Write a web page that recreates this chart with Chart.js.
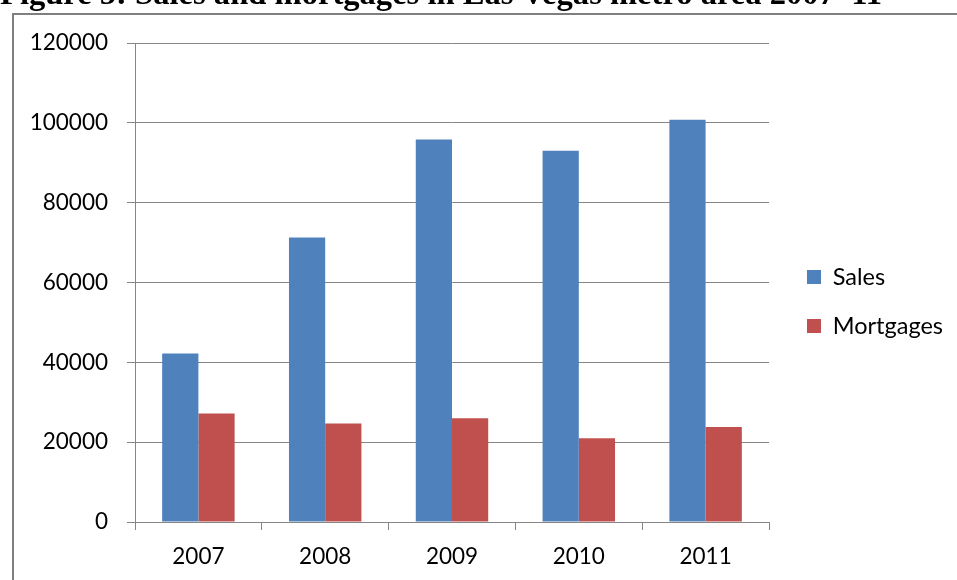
<!DOCTYPE html>
<html>
<head>
<meta charset="utf-8">
<script src="https://cdn.jsdelivr.net/npm/chart.js@4.4.1/dist/chart.umd.min.js"></script>
<style>
  html, body { margin: 0; padding: 0; background: #ffffff; overflow: hidden; }
  canvas { display: block; }
</style>
</head>
<body>
<canvas id="c" width="957" height="580"></canvas>
<script>
// ---- data ----
const titleText = 'Figure 5: Sales and mortgages in Las Vegas metro area 2007–11';
const years = ['2007', '2008', '2009', '2010', '2011'];
const salesValues = [42200, 71300, 95800, 93000, 100800];
const mortgageValues = [27200, 24700, 26000, 21000, 23800];
const yTickValues = [0, 20000, 40000, 60000, 80000, 100000, 120000];
const seriesNames = ['Sales', 'Mortgages'];

// ---- styles ----
const seriesColors = ['#4F81BD', '#C0504D'];
const gridColor = '#868686';
const labelFont = { family: 'Lato', size: 22.5 };
const legendFont = { family: 'Lato', size: 23.5 };
const LEGEND_WIDTH = 175.5;

const framePlugin = {
  id: 'frame',
  beforeLayout(chart) {
    const lg = chart.legend;
    if (lg && !lg._fixedWidth) {
      const origFit = lg.fit;
      lg.fit = function () {
        origFit.call(this);
        if (!this.isHorizontal()) { this.width = LEGEND_WIDTH; }
      };
      lg._fixedWidth = true;
    }
  },
  beforeDraw(chart) {
    const ctx = chart.ctx;
    ctx.save();
    ctx.fillStyle = '#ffffff';
    ctx.fillRect(0, 0, chart.width, chart.height);
    ctx.strokeStyle = '#7f7f7f';
    ctx.lineWidth = 2;
    ctx.strokeRect(13, 14, chart.width + 100, chart.height + 100);
    ctx.restore();
  }
};

new Chart(document.getElementById('c'), {
  type: 'bar',
  data: {
    labels: years,
    datasets: [
      { label: seriesNames[0], data: salesValues, backgroundColor: seriesColors[0], borderWidth: 0 },
      { label: seriesNames[1], data: mortgageValues, backgroundColor: seriesColors[1], borderWidth: 0 }
    ]
  },
  options: {
    responsive: false,
    animation: false,
    devicePixelRatio: 1,
    layout: { padding: { left: 0, top: 0, right: 0, bottom: 0 } },
    datasets: { bar: { barPercentage: 1, categoryPercentage: 2 / 3.5 } },
    plugins: {
      title: {
        display: true,
        text: titleText,
        align: 'start',
        color: '#000000',
        font: { family: 'Liberation Serif', size: 32.6, weight: 'bold', lineHeight: 1 },
        padding: { top: -21.1, bottom: 31.5 }
      },
      legend: {
        position: 'right',
        align: 'center',
        fullSize: false,
        title: { display: true, text: '', font: { size: 10, lineHeight: 1 }, padding: { top: 28, bottom: 0 } },
        labels: { boxWidth: 14, boxHeight: 14, padding: 25.5, color: '#000000', font: legendFont }
      },
      tooltip: { enabled: false }
    },
    scales: {
      x: {
        grid: { display: true, drawOnChartArea: false, drawTicks: true, tickLength: 8, color: gridColor, offset: true },
        border: { display: true, color: gridColor, width: 1 },
        ticks: { color: '#000000', font: labelFont, padding: 13.5, maxRotation: 0, autoSkip: false },
        afterFit(s) { s.height = 58; }
      },
      y: {
        min: yTickValues[0],
        max: yTickValues[yTickValues.length - 1],
        afterBuildTicks(s) { s.ticks = yTickValues.map(v => ({ value: v })); },
        grid: { color: gridColor, tickLength: 8, lineWidth: 1 },
        border: { display: true, color: gridColor, width: 1 },
        ticks: { color: '#000000', font: labelFont, padding: 19, callback: v => String(v) },
        afterFit(s) { s.width = 135; }
      },
      yR: {
        type: 'linear',
        position: 'right',
        display: true,
        grid: { display: false, drawTicks: false },
        border: { display: false },
        ticks: { display: false },
        afterFit(s) { s.width = 12.5; }
      }
    }
  },
  plugins: [framePlugin]
});
</script>
</body>
</html>
